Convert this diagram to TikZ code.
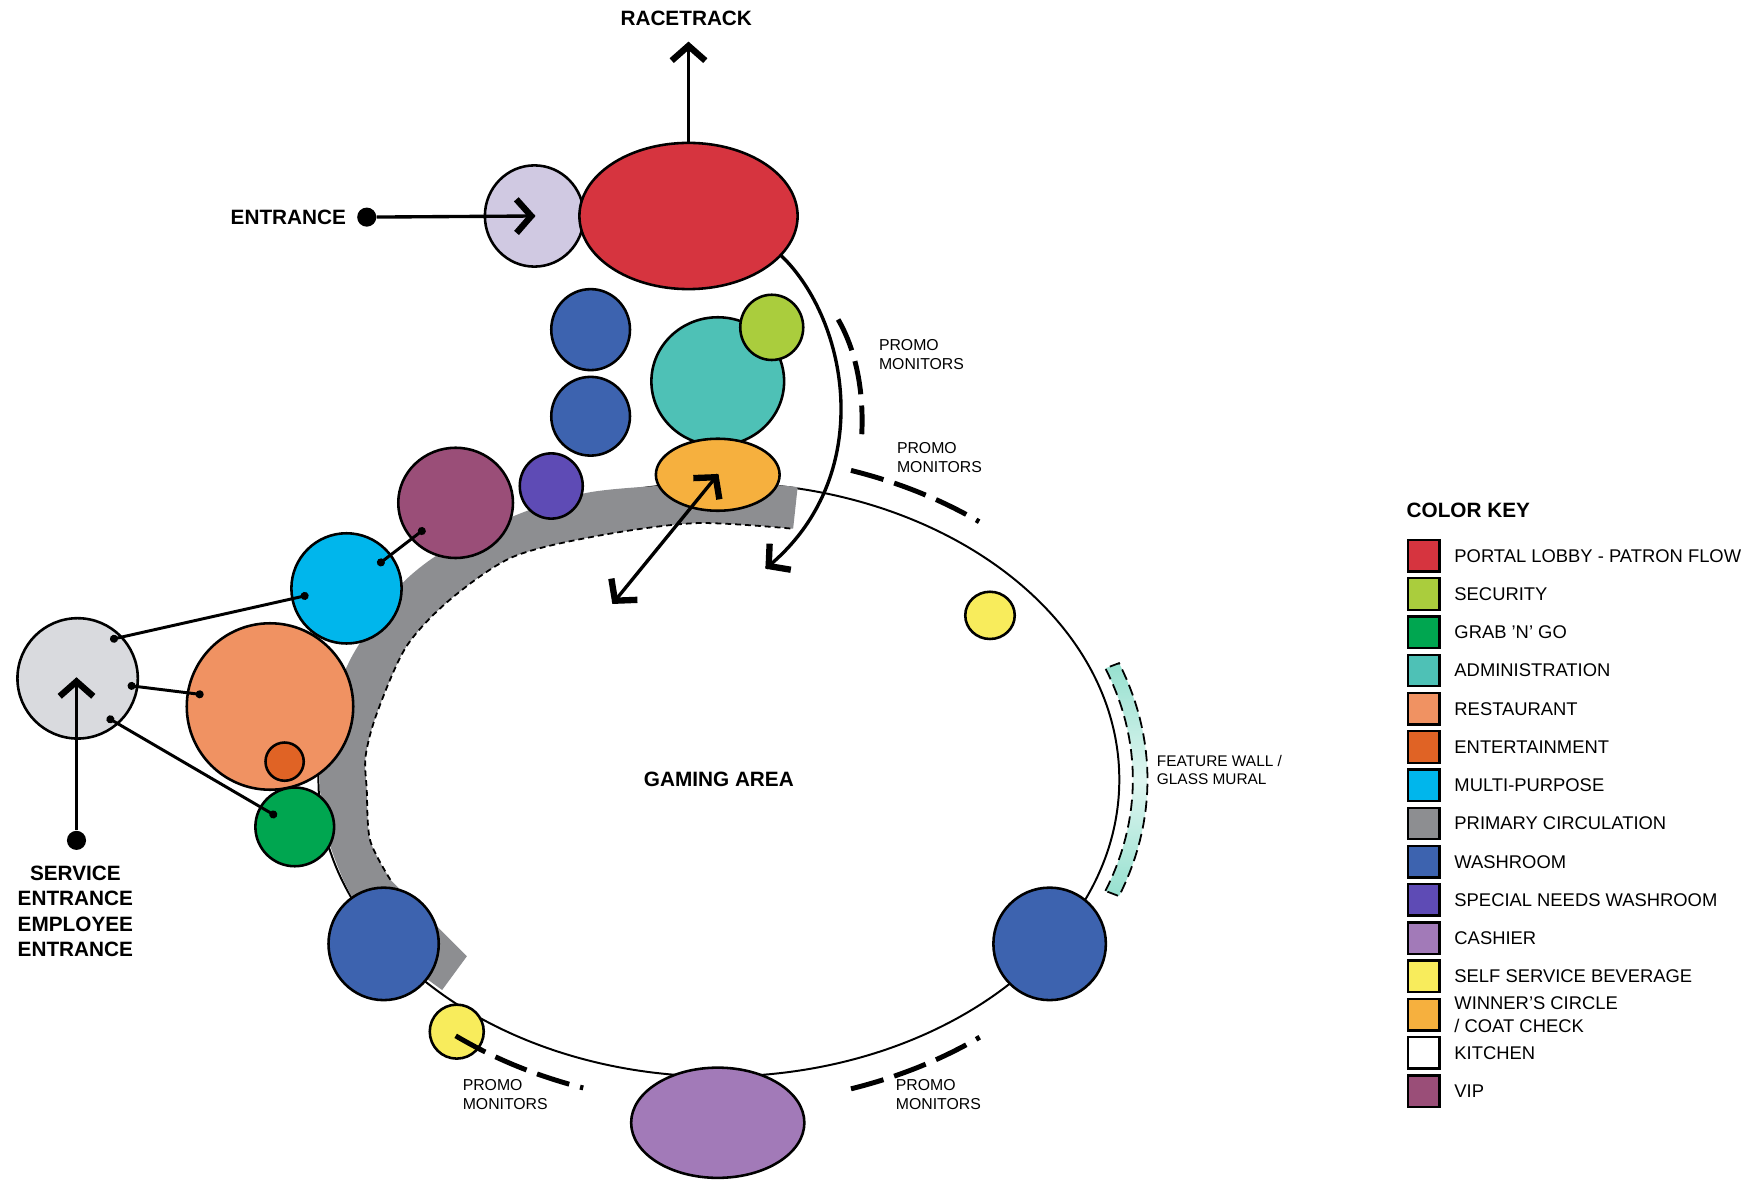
\documentclass[tikz,border=0pt]{standalone}
\usepackage{fontspec}
\setmainfont{Liberation Sans}
\usepackage{xcolor}
\definecolor{lobbyRed}{HTML}{D6343F}
\definecolor{securityLime}{HTML}{AACD3D}
\definecolor{grabGreen}{HTML}{00A650}
\definecolor{adminTeal}{HTML}{4EC1B6}
\definecolor{restSalmon}{HTML}{F09262}
\definecolor{entOrange}{HTML}{E06325}
\definecolor{multiCyan}{HTML}{00B6EC}
\definecolor{circGrey}{HTML}{8D8E91}
\definecolor{washBlue}{HTML}{3D63AF}
\definecolor{specialPurple}{HTML}{5E4BB5}
\definecolor{cashierLilac}{HTML}{A27AB8}
\definecolor{bevYellow}{HTML}{F8EC5C}
\definecolor{winnerOrange}{HTML}{F6B03E}
\definecolor{vipPlum}{HTML}{9A4E78}
\definecolor{entryLavender}{HTML}{D0C9E2}
\definecolor{serviceGrey}{HTML}{D9DADE}
\definecolor{wallTeal}{HTML}{96E0CF}
\usepackage{tikz}
\usetikzlibrary{%
    shapes,
    arrows.meta,
    positioning,
    calc,
    decorations.markings
}

\begin{document}
\begin{tikzpicture}[x=0.02cm, y=-0.02cm, node distance=0.12cm,
                room/.style={ellipse, draw, line width=1.3pt, inner sep=0pt, outer sep=0pt},
                floorplan/.style={ellipse, draw, line width=1pt, minimum width=14.24cm, minimum height=10.56cm, inner sep=0pt, font=\bfseries\fontsize{10.5}{12.8}\selectfont},
                head_end/.style={postaction={decorate, decoration={markings, mark=at position 0.999 with {\draw[line width=3.2pt] (-9pt,8.5pt) -- (-1.5pt,0pt) -- (-9pt,-8.5pt);}}}},
                head_start/.style={postaction={decorate, decoration={markings, mark=at position 0 with {\draw[line width=3.2pt] (9pt,8.5pt) -- (1.5pt,0pt) -- (9pt,-8.5pt);}}}},
                flow/.style={draw, line width=1.7pt, head_end},
                double_flow/.style={draw, line width=1.7pt, head_end, head_start},
                link/.style={draw, line width=1.5pt, {Circle[length=4pt]}-{Circle[length=4pt]}},
                promo/.style={draw, line width=2.5pt, dash pattern=on 0.6cm off 0.2cm},
                heading/.style={font=\bfseries\fontsize{10.5}{12.8}\selectfont, align=center, inner sep=1pt},
                note/.style={font=\fontsize{8}{9.6}\selectfont, align=left, anchor=west, inner sep=0pt},
                swatch/.style={rectangle, draw, line width=1.2pt, minimum size=0.56cm, inner sep=0pt, outer sep=0pt, fill=#1},
                keytext/.style={font=\fontsize{9.3}{11.3}\selectfont, align=left, inner sep=0pt}
            ]
            \useasboundingbox[fill=white] (0,0) rectangle (1568,1050);

            % gaming floor and primary circulation
            \node (gaming) at (639,693) [floorplan] {GAMING AREA};

            \fill[circGrey] plot[smooth] coordinates {(709,433) (660,429) (600,431) (522,438) (456,459) (391,492) (356,520) (333,552) (311,587) (292,635) (284,687) (290,740) (311,794) (345,842) (393,880)}
                -- (415,850) -- (347,782)
                -- plot[smooth] coordinates {(347,782) (329,747) (326,702) (325,672) (335,634) (361,575) (400,533) (456,495) (533,476) (619,465) (705,470)} -- cycle;
            \draw[line width=0.9pt, dash pattern=on 3pt off 2pt] plot[smooth] coordinates {(347,782) (329,747) (326,702) (325,672) (335,634) (361,575) (400,533) (456,495) (533,476) (619,465) (705,470)};

            \draw[line width=0.9pt, dash pattern=on 0.2cm off 0.1cm, top color=wallTeal, bottom color=wallTeal, middle color=wallTeal!30]
                plot[domain=-21:21, samples=30, variable=\t] ({639+368*cos(\t)},{693-276*sin(\t)})
                -- plot[domain=-21:21, samples=30, variable=\t] ({639+381*cos(-\t)},{693-289*sin(-\t)}) -- cycle;

            \draw[promo] (745,284) .. controls (760,310) and (768,345) .. (766,386);
            \draw[promo] plot[domain=-72:-52.5, samples=25, smooth, variable=\t] ({639+380*cos(-\t)},{693-289*sin(-\t)});
            \draw[promo] plot[domain=-72:-52.4, samples=25, smooth, variable=\t] ({639+380*cos(\t)},{693-289*sin(\t)});

            % rooms
            \node (entry) at (475,192) [room, fill=entryLavender, minimum width=1.76cm, minimum height=1.80cm] {};
            \node (portal) at (612,192) [room, fill=lobbyRed, minimum width=3.88cm, minimum height=2.60cm] {};
            \node (washA) at (525,293) [room, fill=washBlue, minimum width=1.40cm, minimum height=1.44cm] {};
            \node (washB) at (525,370) [room, fill=washBlue, minimum width=1.40cm, minimum height=1.40cm] {};
            \node (admin) at (638,339) [room, fill=adminTeal, minimum width=2.36cm, minimum height=2.28cm] {};
            \node (security) at (686,291) [room, fill=securityLime, minimum width=1.12cm, minimum height=1.16cm] {};
            \node (winner) at (638,422) [room, fill=winnerOrange, minimum width=2.20cm, minimum height=1.28cm] {};
            \node (special) at (490,432) [room, fill=specialPurple, minimum width=1.12cm, minimum height=1.16cm] {};
            \node (vip) at (405,447) [room, fill=vipPlum, minimum width=2.04cm, minimum height=1.96cm] {};
            \node (multi) at (308,523) [room, fill=multiCyan, minimum width=1.96cm, minimum height=1.96cm] {};
            \node (svc) at (69,603) [room, fill=serviceGrey, minimum width=2.14cm, minimum height=2.14cm] {};
            \node (rest) at (240,628) [room, fill=restSalmon, minimum width=2.96cm, minimum height=2.96cm] {};
            \node (ent) at (253,677) [room, fill=entOrange, minimum width=0.68cm, minimum height=0.68cm] {};
            \node (grab) at (262,735) [room, fill=grabGreen, minimum width=1.40cm, minimum height=1.40cm] {};
            \node (washC) at (341,839) [room, fill=washBlue, minimum width=1.96cm, minimum height=2.00cm] {};
            \node (bevA) at (406,917) [room, fill=bevYellow, minimum width=0.96cm, minimum height=0.96cm] {};
            \node (cashier) at (638,998) [room, fill=cashierLilac, minimum width=3.08cm, minimum height=1.96cm] {};
            \node (washD) at (933,839) [room, fill=washBlue, minimum width=2.00cm, minimum height=2.00cm] {};
            \node (bevB) at (880,547) [room, fill=bevYellow, minimum width=0.88cm, minimum height=0.84cm] {};

            \draw[promo] plot[domain=-128:-108.5, samples=25, smooth, variable=\t] ({639+380*cos(\t)},{693-289*sin(\t)});

            % entrances and flows
            \node (race) at (610,16) [heading] {RACETRACK};
            \node (entdot) at (326,193) [circle, fill, inner sep=0pt, minimum size=0.34cm] {};
            \node (enttext) [heading, left=0.15cm of entdot] {ENTRANCE};
            \node (svcdot) at (68,747) [circle, fill, inner sep=0pt, minimum size=0.34cm] {};
            \node (svctext) at (67,810) [heading] {SERVICE\\ENTRANCE\\EMPLOYEE\\ENTRANCE};
            \coordinate (racetip) at (612,38);
            \coordinate (floorin) at (545,536);
            \coordinate (crowdin) at (681,505);

            \draw [flow] (portal.north) -- (racetip);
            \draw [flow] (entdot) -- (entry.center);
            \draw [flow] (svcdot) -- (svcdot |- svc.center);
            \draw [flow] (portal.-23) .. controls (755,285) and (780,425) .. (crowdin);
            \draw [double_flow] (floorin) -- (winner.center);

            \draw [link] ($(svc)!0.84!(svc.50)$) -- ($(multi)!0.7!(multi.190)$);
            \draw [link] ($(svc)!0.84!(svc.-8)$) -- ($(rest)!0.81!(rest.170)$);
            \draw [link] ($(svc)!0.81!(svc.-53)$) -- ($(grab)!0.53!(grab.150)$);
            \draw [link] ($(multi)!0.71!(multi.37)$) -- ($(vip)!0.71!(vip.220)$);

            % notes
            \node (promoA) at (781,315.5) [note] {PROMO\\MONITORS};
            \node (promoB) at (797,406.5) [note] {PROMO\\MONITORS};
            \node (promoC) at (411,972.5) [note] {PROMO\\MONITORS};
            \node (promoD) at (796,973) [note] {PROMO\\MONITORS};
            \node (walltext) at (1028,684.5) [note, font=\fontsize{7.8}{9.4}\selectfont] {FEATURE WALL /\\GLASS MURAL};

            % color key
            \node (keytitle) at (1250,454) [heading, anchor=west, inner sep=0pt] {COLOR KEY};
            \node (k1) at (1265.5,494) [swatch=lobbyRed] {};
            \node (k2) [swatch=securityLime, below=of k1] {};
            \node (k3) [swatch=grabGreen, below=of k2] {};
            \node (k4) [swatch=adminTeal, below=of k3] {};
            \node (k5) [swatch=restSalmon, below=of k4] {};
            \node (k6) [swatch=entOrange, below=of k5] {};
            \node (k7) [swatch=multiCyan, below=of k6] {};
            \node (k8) [swatch=circGrey, below=of k7] {};
            \node (k9) [swatch=washBlue, below=of k8] {};
            \node (k10) [swatch=specialPurple, below=of k9] {};
            \node (k11) [swatch=cashierLilac, below=of k10] {};
            \node (k12) [swatch=bevYellow, below=of k11] {};
            \node (k13) [swatch=winnerOrange, below=of k12] {};
            \node (k14) [swatch=white, below=of k13] {};
            \node (k15) [swatch=vipPlum, below=of k14] {};

            \node (k1t) [keytext, right=0.26cm of k1] {PORTAL LOBBY - PATRON FLOW};
            \node (k2t) [keytext, right=0.26cm of k2] {SECURITY};
            \node (k3t) [keytext, right=0.26cm of k3] {GRAB 'N' GO};
            \node (k4t) [keytext, right=0.26cm of k4] {ADMINISTRATION};
            \node (k5t) [keytext, right=0.26cm of k5] {RESTAURANT};
            \node (k6t) [keytext, right=0.26cm of k6] {ENTERTAINMENT};
            \node (k7t) [keytext, right=0.26cm of k7] {MULTI-PURPOSE};
            \node (k8t) [keytext, right=0.26cm of k8] {PRIMARY CIRCULATION};
            \node (k9t) [keytext, right=0.26cm of k9] {WASHROOM};
            \node (k10t) [keytext, right=0.26cm of k10] {SPECIAL NEEDS WASHROOM};
            \node (k11t) [keytext, right=0.26cm of k11] {CASHIER};
            \node (k12t) [keytext, right=0.26cm of k12] {SELF SERVICE BEVERAGE};
            \node (k13t) [keytext, right=0.26cm of k13] {WINNER'S CIRCLE\\/ COAT CHECK};
            \node (k14t) [keytext, right=0.26cm of k14] {KITCHEN};
            \node (k15t) [keytext, right=0.26cm of k15] {VIP};
        \end{tikzpicture}
\end{document}
